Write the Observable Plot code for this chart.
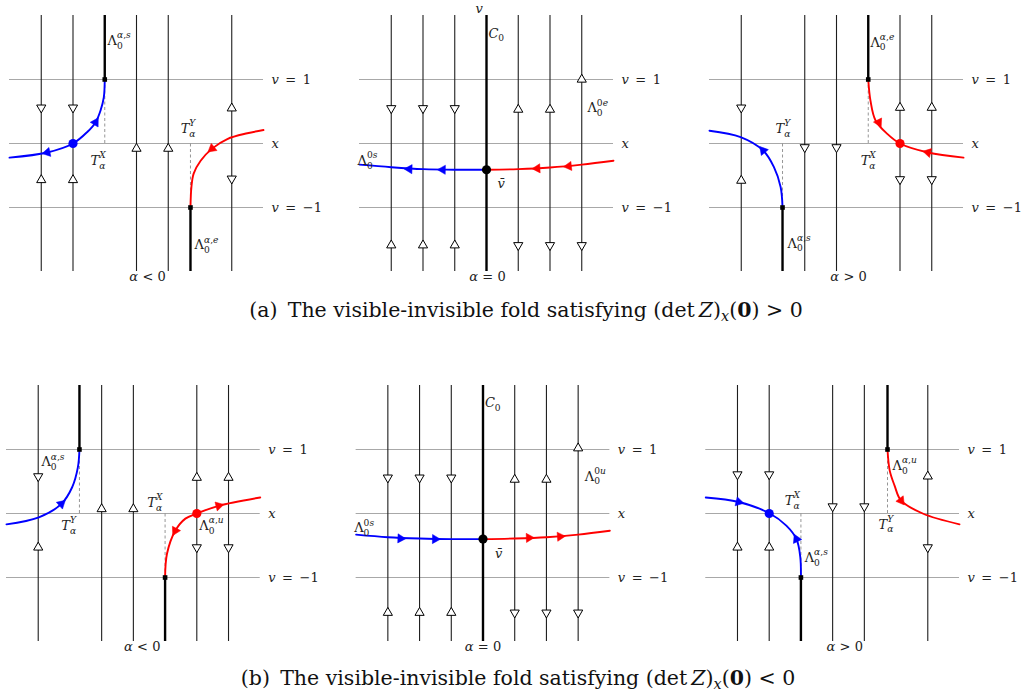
<!DOCTYPE html>
<html>
<head>
<meta charset="utf-8">
<script src="https://cdn.jsdelivr.net/npm/d3@7"></script>
<script src="https://cdn.jsdelivr.net/npm/@observablehq/plot@0.6"></script>
<style>
  html, body { margin: 0; padding: 0; background: #fff; }
  body { width: 1026px; height: 695px; position: relative; overflow: hidden; font-family: "DejaVu Serif", serif; }
  .row { position: absolute; left: 0; }
  .cap { position: absolute; white-space: nowrap; font-size: 20.5px; line-height: 24px; color: #111; transform: translateX(-50%); }
  .cap sub { font-size: 0.7em; vertical-align: -0.3em; line-height: 0; }
</style>
</head>
<body>
<div id="rowA" class="row" style="top:0px"></div>
<div class="cap" style="top:298px; left:526px;">(a)&ensp;The visible-invisible fold satisfying (det&thinsp;<i>Z</i>)<sub><i>x</i></sub>(<b>0</b>) &gt; 0</div>
<div id="rowB" class="row" style="top:370px"></div>
<div class="cap" style="top:666px; left:518px;">(b)&ensp;The visible-invisible fold satisfying (det&thinsp;<i>Z</i>)<sub><i>x</i></sub>(<b>0</b>) &lt; 0</div>
<script>
// ---------- shared categories / labels ----------
const panels = ["neg", "zero", "pos"];
const levels = [1, 0, -1];
const levelLabels = ["v\u2002=\u20021", "x", "v\u2002=\u2002\u22121"];
const panelLabels = ["\u03b1\u2004<\u20040", "\u03b1\u2004=\u20040", "\u03b1\u2004>\u20040"];

// ---------- row (a): (det Z)_x(0) > 0 ----------
const aPanelLabelU = [0.35, 0.03, 0.38];
// full-height trajectories [panel, u]
const aThin = [["neg",-3],["neg",-2],["neg",0],["neg",1],["neg",3],
  ["zero",-3],["zero",-2],["zero",-1],["zero",1],["zero",2],["zero",3],
  ["pos",-3],["pos",-1],["pos",0],["pos",2],["pos",3]];
// thick segments [panel, u, v1, v2]
const aThick = [["neg",-1,1,2],["neg",1.7,-2,-1],["zero",0,-2,2],["pos",-1.7,-2,-1],["pos",1,1,2]];
// dashed tangency segments [panel, u, v1, v2]
const aDashed = [["neg",-1,0,1],["neg",1.7,-1,0],["pos",-1.7,-1,0],["pos",1,0,1]];
// open arrowheads [panel, u, v, direction]
const aOpen = [
  ["neg",-3,0.56,"down"],["neg",-3,-0.57,"up"],["neg",-2,0.56,"down"],["neg",-2,-0.57,"up"],
  ["neg",0,-0.08,"up"],["neg",1,-0.08,"up"],["neg",3,0.55,"up"],["neg",3,-0.55,"down"],
  ["zero",-3,0.55,"down"],["zero",-2,0.55,"down"],["zero",-1,0.55,"down"],
  ["zero",-3,-1.59,"up"],["zero",-2,-1.59,"up"],["zero",-1,-1.59,"up"],
  ["zero",1,0.53,"up"],["zero",2,0.53,"up"],["zero",3,1.0,"up"],
  ["zero",1,-1.59,"down"],["zero",2,-1.59,"down"],["zero",3,-1.59,"down"],
  ["pos",-3,0.56,"down"],["pos",-3,-0.58,"up"],["pos",-1,-0.06,"down"],["pos",0,-0.06,"down"],
  ["pos",2,0.56,"up"],["pos",2,-0.56,"down"],["pos",3,0.56,"up"],["pos",3,-0.56,"down"]];
// blue orbit points [panel, u, v]
const aBlue = [
  ["neg",-1,1],["neg",-1.03,0.72],["neg",-1.13,0.52],["neg",-1.29,0.33],["neg",-1.55,0.18],["neg",-2,0],["neg",-2.81,-0.14],["neg",-4,-0.22],
  ["zero",-4,-0.33],["zero",-3,-0.37],["zero",-2,-0.40],["zero",-1,-0.41],["zero",0,-0.41],
  ["pos",-4,0.2],["pos",-3.02,0.1],["pos",-2.31,-0.11],["pos",-1.97,-0.37],["pos",-1.76,-0.68],["pos",-1.7,-1]];
// red orbit points [panel, u, v]
const aRed = [
  ["neg",1.7,-1],["neg",1.73,-0.68],["neg",1.8,-0.47],["neg",2.02,-0.27],["neg",2.38,-0.08],["neg",2.86,0.07],["neg",3.49,0.16],["neg",4,0.21],
  ["zero",0,-0.41],["zero",1,-0.40],["zero",2,-0.375],["zero",3,-0.33],["zero",4,-0.27],
  ["pos",1,1],["pos",1.07,0.67],["pos",1.23,0.36],["pos",1.6,0.15],["pos",2,0],["pos",2.88,-0.14],["pos",4,-0.22]];
// filled arrowheads on orbits [panel, colour, u, v, heading in degrees]
const aArrows = [
  ["neg","blue",-1.29,0.33,31],["neg","blue",-2.81,-0.14,258],["neg","red",2.38,-0.08,231],
  ["zero","blue",-2.43,-0.40,272],["zero","blue",-1.38,-0.41,271],["zero","red",1.6,-0.39,267],["zero","red",2.59,-0.355,264],
  ["pos","blue",-2.31,-0.11,320],["pos","red",1.33,0.33,153],["pos","red",2.88,-0.14,283]];
// equilibria [panel, colour, u, v]
const aDots = [["neg","blue",-2,0],["zero","black",0,-0.41],["pos","red",2,0]];
// fold points [panel, u, v]
const aSquares = [["neg",-1,1],["neg",1.7,-1],["pos",-1.7,-1],["pos",1,1]];
// labels [panel, u, v, text]  (base|sub|sup)
const aLabels = [
  ["neg",-0.91,1.61,"\u039b|0|\u03b1,s"],["neg",-1.45,-0.27,"T|\u03b1|X"],["neg",1.39,0.23,"T|\u03b1|Y"],["neg",1.83,-1.59,"\u039b|0|\u03b1,e"],
  ["zero",-0.35,2.1,"v"],["zero",0.06,1.72,"C|0|"],["zero",3.18,0.55,"\u039b|0|0e"],["zero",-4.06,-0.27,"\u039b|0|0s"],["zero",0.35,-0.63,"v\u0304"],
  ["pos",1.07,1.58,"\u039b|0|\u03b1,e"],["pos",-1.92,0.23,"T|\u03b1|Y"],["pos",0.76,-0.27,"T|\u03b1|X"],["pos",-1.54,-1.56,"\u039b|0|\u03b1,s"]];

// ---------- row (b): (det Z)_x(0) < 0 ----------
const bPanelLabelU = [0.28, 0.0, 0.38];
const bThin = [["neg",-3],["neg",-1],["neg",0],["neg",2],["neg",3],
  ["zero",-3],["zero",-2],["zero",-1],["zero",1],["zero",2],["zero",3],
  ["pos",-3],["pos",-2],["pos",0],["pos",1],["pos",3]];
const bThick = [["neg",-1.7,1,2],["neg",1,-2,-1],["zero",0,-2,2],["pos",-1,-2,-1],["pos",1.73,1,2]];
const bDashed = [["neg",-1.7,0,1],["neg",1,-1,0],["pos",-1,-1,0],["pos",1.73,0,1]];
const bOpen = [
  ["neg",-3,0.58,"down"],["neg",-3,-0.53,"up"],["neg",-1,0.07,"up"],["neg",0,0.07,"up"],
  ["neg",2,0.56,"up"],["neg",2,-0.53,"down"],["neg",3,0.56,"up"],["neg",3,-0.53,"down"],
  ["zero",-3,0.56,"down"],["zero",-2,0.56,"down"],["zero",-1,0.56,"down"],
  ["zero",-3,-1.55,"up"],["zero",-2,-1.55,"up"],["zero",-1,-1.55,"up"],
  ["zero",1,0.53,"up"],["zero",2,0.53,"up"],["zero",3,1.02,"up"],
  ["zero",1,-1.55,"down"],["zero",2,-1.55,"down"],["zero",3,-1.55,"down"],
  ["pos",-3,0.61,"down"],["pos",-3,-0.53,"up"],["pos",-2,0.61,"down"],["pos",-2,-0.53,"up"],
  ["pos",0,0.11,"down"],["pos",1,0.11,"down"],["pos",3,0.58,"up"],["pos",3,-0.53,"down"]];
const bBlue = [
  ["neg",-4,-0.17],["neg",-2.98,-0.06],["neg",-2.27,0.15],["neg",-1.93,0.41],["neg",-1.75,0.72],["neg",-1.7,1],
  ["zero",-4,-0.33],["zero",-3,-0.37],["zero",-2,-0.39],["zero",-1,-0.40],["zero",0,-0.40],
  ["pos",-4,0.25],["pos",-2.96,0.18],["pos",-1.98,0],["pos",-1.46,-0.19],["pos",-1.14,-0.4],["pos",-1.02,-0.68],["pos",-1,-1]];
const bRed = [
  ["neg",1,-1],["neg",1.06,-0.63],["neg",1.32,-0.27],["neg",1.64,-0.08],["neg",2,0],["neg",2.69,0.12],["neg",4,0.25],
  ["zero",0,-0.40],["zero",1,-0.39],["zero",2,-0.37],["zero",3,-0.33],["zero",4,-0.27],
  ["pos",1.73,1],["pos",1.8,0.67],["pos",1.95,0.44],["pos",2.16,0.2],["pos",2.84,0],["pos",4,-0.17]];
const bArrows = [
  ["neg","blue",-2.27,0.15,48],["neg","red",1.32,-0.27,208],["neg","red",2.69,0.12,76],
  ["zero","blue",-2.6,-0.39,92],["zero","blue",-1.51,-0.40,91],["zero","red",1.45,-0.38,88],["zero","red",2.43,-0.36,86],
  ["pos","blue",-2.96,0.18,104],["pos","blue",-1.14,-0.4,335],["pos","red",2.16,0.2,143]];
const bDots = [["neg","red",2,0],["zero","black",0,-0.40],["pos","blue",-2,0]];
const bSquares = [["neg",-1.7,1],["neg",1,-1],["pos",-1,-1],["pos",1.73,1]];
const bLabels = [
  ["neg",-2.9,0.8,"\u039b|0|\u03b1,s"],["neg",-2.27,-0.19,"T|\u03b1|Y"],["neg",0.44,0.17,"T|\u03b1|X"],["neg",2.08,-0.19,"\u039b|0|\u03b1,u"],
  ["zero",0.06,1.73,"C|0|"],["zero",3.21,0.58,"\u039b|0|0u"],["zero",-4.06,-0.23,"\u039b|0|0s"],["zero",0.38,-0.63,"v\u0304"],
  ["pos",-1.51,0.2,"T|\u03b1|X"],["pos",-0.88,-0.69,"\u039b|0|\u03b1,s"],["pos",1.89,0.75,"\u039b|0|\u03b1,u"],["pos",1.45,-0.17,"T|\u03b1|Y"]];

// ---------- helpers ----------
const rec = (arr, keys) => arr.map(r => Object.fromEntries(keys.map((k, i) => [k, r[i]])));
const colorScale = {domain: ["blue", "red", "black"], range: ["#0000ff", "#ff0000", "#000000"]};
const FONT = '"DejaVu Serif", serif';

function row(spec) {
  const thin = rec(spec.thin, ["p","u"]);
  const thick = rec(spec.thick, ["p","u","v1","v2"]);
  const dashed = rec(spec.dashed, ["p","u","v1","v2"]);
  const open = rec(spec.open, ["p","u","v","dir"]);
  const blue = rec(spec.blue, ["p","u","v"]);
  const red = rec(spec.red, ["p","u","v"]);
  const arrows = rec(spec.arrows, ["p","c","u","v","a"]);
  const dots = rec(spec.dots, ["p","c","u","v"]);
  const squares = rec(spec.squares, ["p","u","v"]);
  const labels = rec(spec.labels, ["p","u","v","t"]);
  const levelRows = levels.map((v, i) => ({v, t: levelLabels[i]}));
  const panelRows = panels.map((p, i) => ({p, u: spec.panelU[i], t: panelLabels[i]}));
  return Plot.plot({
    width: 1026, height: 290,
    marginTop: 15, marginBottom: 19, marginLeft: spec.ml, marginRight: spec.mr,
    fx: {domain: panels, axis: null, paddingInner: 96 / 350, paddingOuter: 0, round: false},
    x: {domain: [-4, 4], axis: null},
    y: {domain: [-2, 2], axis: null},
    color: colorScale,
    style: {fontFamily: FONT, fontSize: "13px", background: "white", overflow: "visible"},
    marks: [
      Plot.ruleY(levelRows, {y: "v", stroke: "#a8a8a8", strokeWidth: 1}),
      Plot.ruleX(dashed, {fx: "p", x: "u", y1: "v1", y2: "v2", stroke: "#8a8a8a", strokeWidth: 0.9, strokeDasharray: "3,2.5"}),
      Plot.ruleX(thin, {fx: "p", x: "u", stroke: "#1e1e1e", strokeWidth: 1.1}),
      Plot.ruleX(thick, {fx: "p", x: "u", y1: "v1", y2: "v2", stroke: "#000", strokeWidth: 2.4}),
      Plot.line(blue, {fx: "p", x: "u", y: "v", stroke: "#0000ff", strokeWidth: 1.9, curve: "catmull-rom"}),
      Plot.line(red, {fx: "p", x: "u", y: "v", stroke: "#ff0000", strokeWidth: 1.9, curve: "catmull-rom"}),
      Plot.dot(open, {fx: "p", x: "u", y: "v", symbol: "triangle", r: 3.4, fill: "white", stroke: "#000", strokeWidth: 1, rotate: d => d.dir === "up" ? 0 : 180}),
      Plot.dot(arrows, {fx: "p", x: "u", y: "v", symbol: "triangle", r: 3.4, fill: "c", stroke: "c", strokeWidth: 0.5, rotate: "a"}),
      Plot.dot(dots, {fx: "p", x: "u", y: "v", r: 4.6, fill: "c", stroke: "none"}),
      Plot.dot(squares, {fx: "p", x: "u", y: "v", symbol: "square", r: 2.6, fill: "#000", stroke: "none"}),
      Plot.text(labels, {fx: "p", x: "u", y: "v", text: "t", textAnchor: "start", fill: "#222", fontSize: 13}),
      Plot.text(levelRows, {y: "v", text: "t", frameAnchor: "right", dx: 8, textAnchor: "start", fill: "#222", fontSize: 13}),
      Plot.text(panelRows, {fx: "p", x: "u", text: "t", frameAnchor: "bottom", dy: 9, fill: "#222", fontSize: 13})
    ]
  });
}

const NS = "http://www.w3.org/2000/svg";
function runs(parent, str, size) {
  const out = [];
  const re = /([A-Za-z\u03b1\u0304\u0305]+)|([^A-Za-z\u03b1\u0304\u0305]+)/g;
  let m;
  while ((m = re.exec(str))) {
    const t = document.createElementNS(NS, "tspan");
    if (m[1]) t.setAttribute("font-style", "italic");
    if (size) t.setAttribute("font-size", size);
    t.textContent = m[0];
    parent.appendChild(t);
    out.push(t);
  }
  return out;
}
function richText(root) {
  root.querySelectorAll('g[aria-label="text"] text').forEach(t => {
    const s = t.textContent;
    const fs = parseFloat(t.getAttribute("font-size") || t.parentNode.getAttribute("font-size")) || 13;
    t.textContent = "";
    const [base, sub, sup] = s.split("|");
    runs(t, base);
    if (sub === undefined) return;
    const small = fs * 0.7;
    const subSpans = runs(t, sub, small);
    let shift = 0;
    if (subSpans.length) { shift = 0.3 * fs; subSpans[0].setAttribute("dy", shift); }
    let w = 0;
    subSpans.forEach(sp => { w += sp.getComputedTextLength(); });
    if (sup) {
      const supSpans = runs(t, sup, small);
      if (w) supSpans[0].setAttribute("dx", -w);
      supSpans[0].setAttribute("dy", -shift - 0.5 * fs);
    }
  });
}

const plotA = row({thin: aThin, thick: aThick, dashed: aDashed, open: aOpen, blue: aBlue, red: aRed,
  arrows: aArrows, dots: aDots, squares: aSquares, labels: aLabels, panelU: aPanelLabelU, ml: 9, mr: 63});
const plotB = row({thin: bThin, thick: bThick, dashed: bDashed, open: bOpen, blue: bBlue, red: bRed,
  arrows: bArrows, dots: bDots, squares: bSquares, labels: bLabels, panelU: bPanelLabelU, ml: 6, mr: 67});
document.getElementById("rowA").appendChild(plotA);
document.getElementById("rowB").appendChild(plotB);
richText(plotA);
richText(plotB);
</script>
</body>
</html>
